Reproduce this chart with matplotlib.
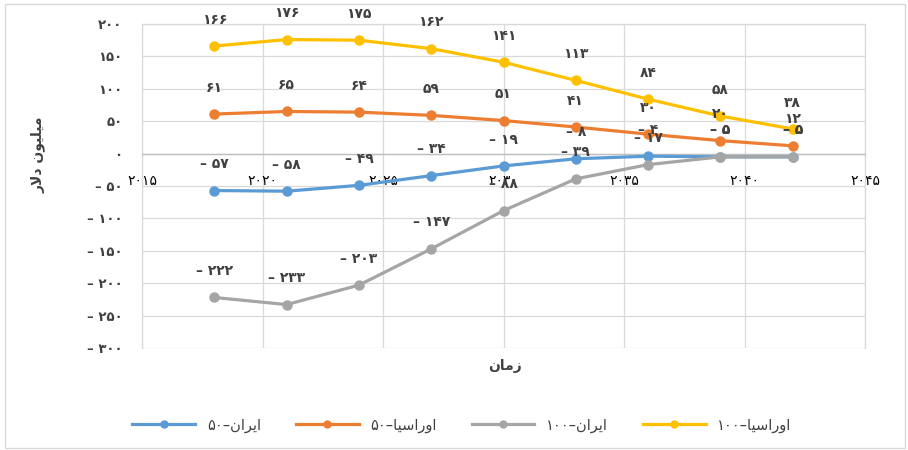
import matplotlib
matplotlib.use("Agg")
import matplotlib.pyplot as plt
from matplotlib.lines import Line2D
from matplotlib.patches import Rectangle

plt.rcParams['font.family'] = ['DejaVu Sans']

# داده‌ها
years = [2018, 2021, 2024, 2027, 2030, 2033, 2036, 2039, 2042]
iran_50 = [-57, -58, -49, -34, -19, -8, -4, -5, -5]
eurasia_50 = [61, 65, 64, 59, 51, 41, 30, 20, 12]
iran_100 = [-222, -233, -203, -147, -88, -39, -17, -5, -5]
eurasia_100 = [166, 176, 175, 162, 141, 113, 84, 58, 38]

x_ticks = [2015, 2020, 2025, 2030, 2035, 2040, 2045]
y_ticks = [-300, -250, -200, -150, -100, -50, 0, 50, 100, 150, 200]

# presentation forms, visual order (matplotlib has no bidi / shaping)
w_iran = "\uFEE5\uFE8D\uFEAE\uFEF3\uFE8D"           # ایران
w_eurasia = "\uFE8E\uFEF4\uFEB3\uFE8D\uFEAD\uFEED\uFE8D"  # اوراسیا
w_time = "\uFEE5\uFE8E\uFEE3\uFEAF"                 # زمان
w_ylabel = "\uFEAD\uFEFB\uFEA9 \uFEE5\uFEEE\uFEF4\uFEE0\uFEF4\uFEE3"  # میلیون دلار

fa = str.maketrans("0123456789", "۰۱۲۳۴۵۶۷۸۹")


def fa_num(v):
    v = int(v)
    if v < 0:
        return "\u2013 " + str(-v).translate(fa)
    return str(v).translate(fa)


series = [
    (iran_50, "#5B9BD5", "۵۰\u2013" + w_iran),
    (eurasia_50, "#ED7D31", "۵۰\u2013" + w_eurasia),
    (iran_100, "#A5A5A5", "۱۰۰\u2013" + w_iran),
    (eurasia_100, "#FFC000", "۱۰۰\u2013" + w_eurasia),
]

txt = "#404040"

fig = plt.figure(figsize=(9.08, 4.5), dpi=100)
ax = fig.add_axes([142 / 908, 1 - 348 / 450, (865 - 142) / 908, (348 - 24) / 450])

handles = []
for vals, col, lab in series:
    ax.plot(years, vals, color=col, lw=2.3, marker="o", ms=6.5, zorder=3)
    handles.append(Line2D([], [], color=col, lw=2.3, marker="o", ms=5, label=lab))

for vals, col, lab in series:
    for x, v in zip(years, vals):
        ax.annotate(fa_num(v), (x, v), xytext=(0, 19), textcoords="offset points",
                    ha="center", va="center", fontsize=10, fontweight="bold",
                    color=txt, zorder=5)

ax.set_xlim(2015, 2045)
ax.set_ylim(-300, 200)
ax.set_xticks(x_ticks)
ax.set_yticks(y_ticks)
ax.set_xticklabels([fa_num(t) for t in x_ticks], fontweight="bold", fontsize=9.5, color=txt)
ax.set_yticklabels([fa_num(t) for t in y_ticks], fontweight="bold", fontsize=9.5, color=txt)
ax.tick_params(length=0)
ax.tick_params(axis="x", pad=15)
ax.tick_params(axis="y", pad=14)

ax.grid(True, color="#D9D9D9", lw=0.9)
ax.set_axisbelow(True)
for s in ["top", "right", "left"]:
    ax.spines[s].set_color("#D9D9D9")
    ax.spines[s].set_linewidth(0.9)
ax.spines["bottom"].set_position(("data", 0))
ax.spines["bottom"].set_color("#BFBFBF")
ax.spines["bottom"].set_linewidth(1.0)

fig.text(505 / 908, 1 - 366 / 450, w_time, ha="center", va="center",
         fontsize=10, fontweight="bold", color=txt)
fig.text(38 / 908, 1 - 155 / 450, w_ylabel, ha="center", va="center",
         rotation=90, fontsize=10, fontweight="bold", color=txt)

fig.legend(handles=handles, loc="center", bbox_to_anchor=(462 / 908, 1 - 425 / 450),
           ncol=4, frameon=False, fontsize=10.5, handlelength=4.3,
           columnspacing=2.4, labelcolor=txt)

fig.patches.append(Rectangle((5 / 908, 2 / 450), 900 / 908, 444 / 450,
                             transform=fig.transFigure, fill=False,
                             edgecolor="#D9D9D9", lw=1))

fig.savefig("out.png", dpi=100)
